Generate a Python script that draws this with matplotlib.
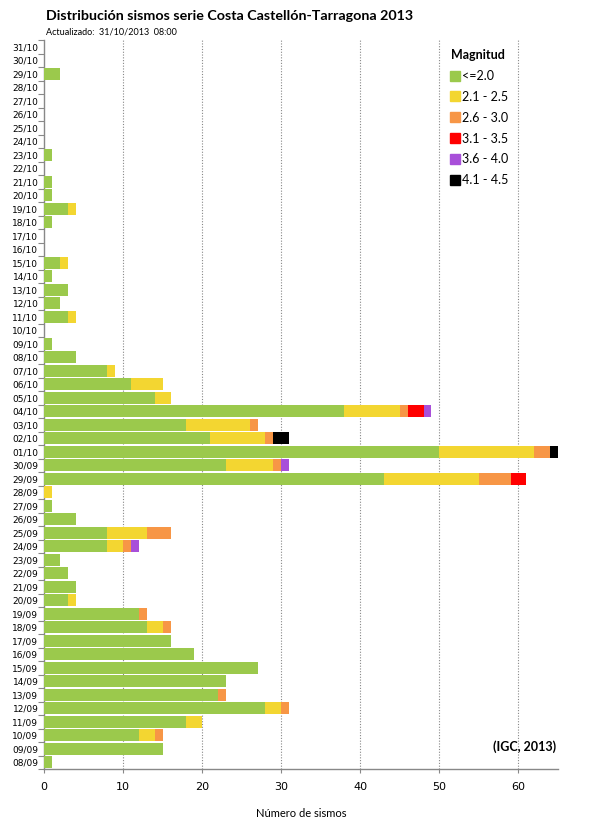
import matplotlib
matplotlib.use("Agg")
import matplotlib.pyplot as plt
from matplotlib.lines import Line2D
import numpy as np

# Dates from bottom (08/09) to top (31/10)
dates = [f"{d:02d}/09" for d in range(8, 31)] + [f"{d:02d}/10" for d in range(1, 32)]

# Counts per magnitude class, ordered same as dates
m_le20 = [1, 15, 12, 18, 28, 22, 23, 27, 19, 16, 13, 12, 3, 4, 3, 2, 8, 8, 4, 1, 0, 43, 23,
          50, 21, 18, 38, 14, 11, 8, 4, 1, 0, 3, 2, 3, 1, 2, 0, 0, 1, 3, 1, 1, 0, 1, 0, 0, 0, 0, 0, 2, 0, 0]
m_21_25 = [0, 0, 2, 2, 2, 0, 0, 0, 0, 0, 2, 0, 1, 0, 0, 0, 2, 5, 0, 0, 1, 12, 6,
           12, 7, 8, 7, 2, 4, 1, 0, 0, 0, 1, 0, 0, 0, 1, 0, 0, 0, 1, 0, 0, 0, 0, 0, 0, 0, 0, 0, 0, 0, 0]
m_26_30 = [0, 0, 1, 0, 1, 1, 0, 0, 0, 0, 1, 1, 0, 0, 0, 0, 1, 3, 0, 0, 0, 4, 1,
           2, 1, 1, 1, 0, 0, 0, 0, 0, 0, 0, 0, 0, 0, 0, 0, 0, 0, 0, 0, 0, 0, 0, 0, 0, 0, 0, 0, 0, 0, 0]
m_31_35 = [0] * 21 + [2, 0, 0, 0, 0, 2] + [0] * 27
m_36_40 = [0] * 16 + [1] + [0] * 5 + [1] + [0] * 3 + [1] + [0] * 27
m_41_45 = [0] * 23 + [1, 2] + [0] * 29

series = [m_le20, m_21_25, m_26_30, m_31_35, m_36_40, m_41_45]
labels = ["<=2.0", "2.1 - 2.5", "2.6 - 3.0", "3.1 - 3.5", "3.6 - 4.0", "4.1 - 4.5"]
colors = ["#9BC94C", "#F3D631", "#F79646", "#FF0000", "#A84FD9", "#000000"]

LATO = ["Lato", "DejaVu Sans"]

fig = plt.figure(figsize=(5.92, 8.32), dpi=100)
ax = fig.add_axes([44 / 592, 1 - 769 / 832, (558 - 44) / 592, 729 / 832])

y = np.arange(len(dates))
left = np.zeros(len(dates))
for vals, c in zip(series, colors):
    v = np.array(vals, dtype=float)
    ax.barh(y, v, left=left, height=0.86, color=c, linewidth=0, zorder=3)
    left += v

ax.set_xlim(0, 65)
ax.set_ylim(-0.5, len(dates) - 0.5)
ax.set_xticks([0, 10, 20, 30, 40, 50, 60])
ax.set_yticks(y)
ax.set_yticklabels(dates, fontsize=6.5, family="DejaVu Sans")
ax.tick_params(axis="y", length=0, pad=4)
ax.set_yticks(np.arange(-0.5, len(dates), 1), minor=True)
ax.tick_params(axis="y", which="minor", length=4, color="#888888", width=0.8)
ax.tick_params(axis="x", length=3, color="#888888", labelsize=8, pad=6)

for xv in [10, 20, 30, 40, 50, 60]:
    ax.axvline(xv, color="#888888", linestyle=(0, (1, 1.5)), linewidth=0.8, zorder=1)

for s in ["top", "right"]:
    ax.spines[s].set_visible(False)
for s in ["left", "bottom"]:
    ax.spines[s].set_color("#888888")
    ax.spines[s].set_linewidth(1.0)

ax.set_xlabel("Número de sismos", fontsize=8, family=LATO, labelpad=12)

handles = [Line2D([], [], marker="s", linestyle="none", markersize=6.5,
                  markerfacecolor=c, markeredgecolor=c) for c in colors]
leg = ax.legend(handles, labels, title="Magnitud", loc="upper left",
                bbox_to_anchor=(0.77, 1.003), frameon=False,
                prop={"family": LATO, "size": 9},
                labelspacing=0.71, handlelength=0.7, handletextpad=0.15,
                title_fontproperties={"family": LATO, "weight": "bold", "size": 9})
leg._legend_box.align = "left"

ax.text(0.997, 0.022, "(IGC, 2013)", transform=ax.transAxes, ha="right", va="bottom",
        fontsize=9, fontweight="bold", family=LATO)

fig.text(46 / 592, 1 - 16 / 832, "Distribución sismos serie Costa Castellón-Tarragona 2013",
         fontsize=10.3, fontweight="bold", va="center", ha="left", family=LATO)
fig.text(46 / 592, 1 - 32 / 832, "Actualizado:  31/10/2013  08:00",
         fontsize=6.5, va="center", ha="left", family=LATO)

fig.savefig("out.png", dpi=100)
